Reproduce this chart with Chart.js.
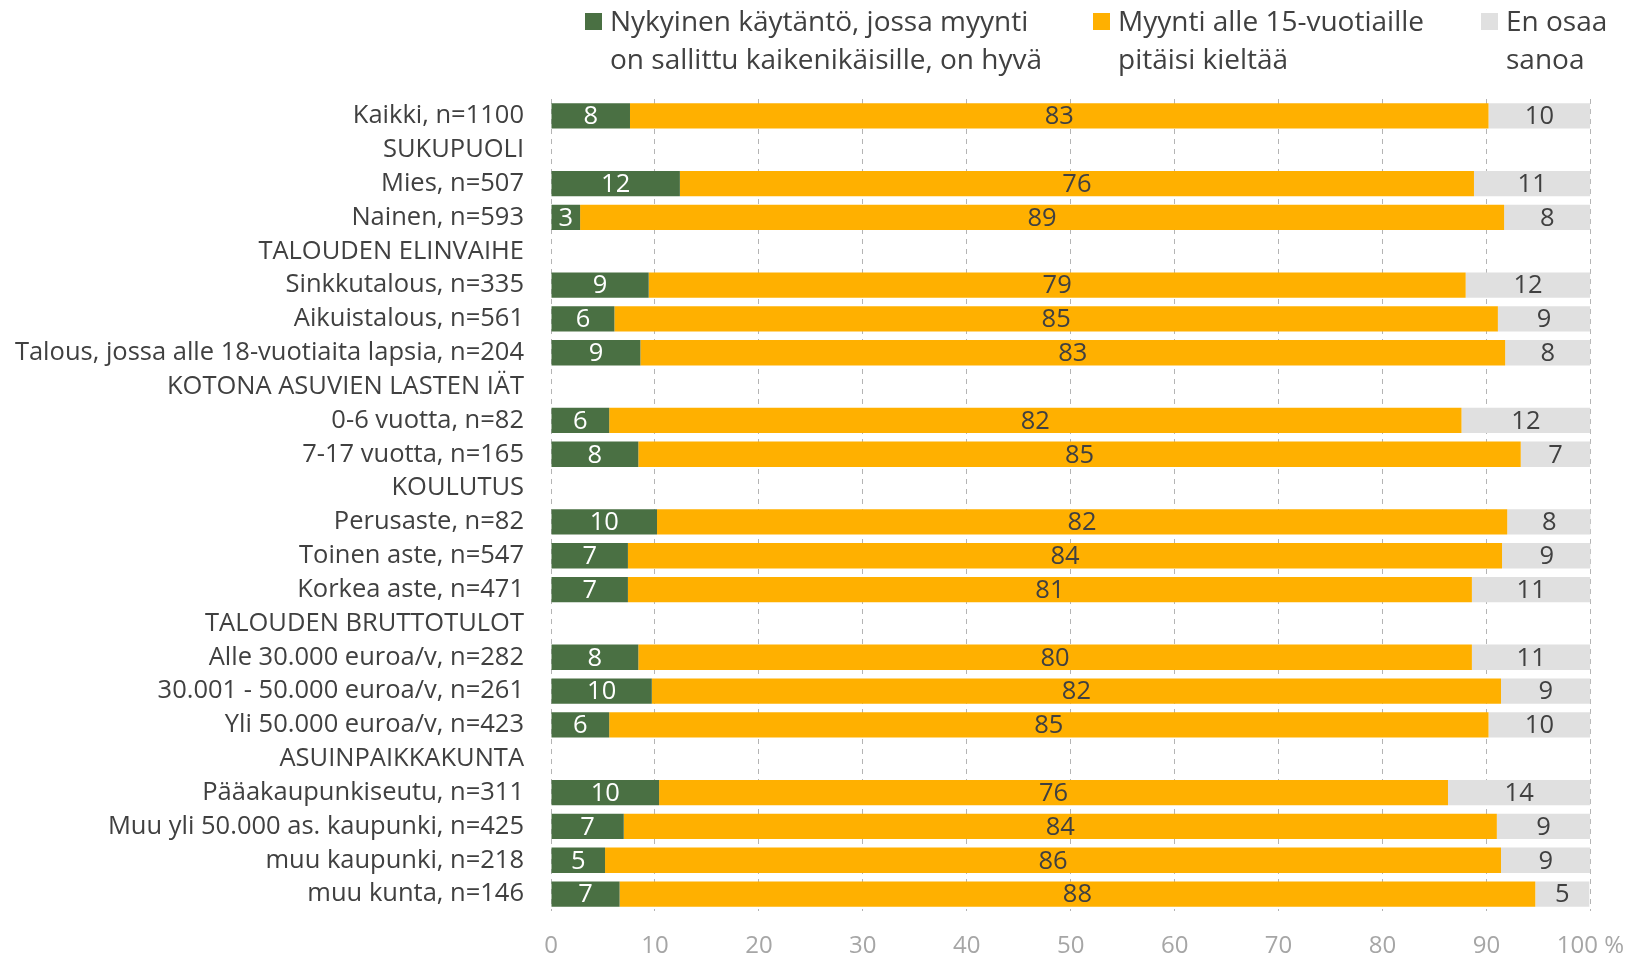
<!DOCTYPE html>
<html>
<head>
<meta charset="utf-8">
<script src="https://cdn.jsdelivr.net/npm/chart.js@4"></script>
<style>
  body { margin: 0; background: #fff; }
  #wrap { position: relative; width: 1645px; height: 957px; }
  .leg { position: absolute; top: 1px; font-family: "Open Sans", sans-serif; font-size: 28px; line-height: 38px; color: #404040; white-space: nowrap; }
  .leg i { position: absolute; left: -25px; top: 12px; width: 17px; height: 17px; }
</style>
</head>
<body>
<div id="wrap">
  <canvas id="bar-chart" width="1645" height="957"></canvas>
  <div class="leg" style="left:610px"><i style="background:#4a7043"></i>Nykyinen käytäntö, jossa myynti<br>on sallittu kaikenikäisille, on hyvä</div>
  <div class="leg" style="left:1118px"><i style="background:#ffb000"></i>Myynti alle 15-vuotiaille<br>pitäisi kieltää</div>
  <div class="leg" style="left:1506px"><i style="background:#e0e0e0"></i>En osaa<br>sanoa</div>
</div>
<script>
// categories (header rows have no bars)
const categories = [
    'Kaikki, n=1100', 'SUKUPUOLI', 'Mies, n=507', 'Nainen, n=593',
    'TALOUDEN ELINVAIHE', 'Sinkkutalous, n=335', 'Aikuistalous, n=561',
    'Talous, jossa alle 18-vuotiaita lapsia, n=204', 'KOTONA ASUVIEN LASTEN IÄT',
    '0-6 vuotta, n=82', '7-17 vuotta, n=165', 'KOULUTUS', 'Perusaste, n=82',
    'Toinen aste, n=547', 'Korkea aste, n=471', 'TALOUDEN BRUTTOTULOT',
    'Alle 30.000 euroa/v, n=282', '30.001 - 50.000 euroa/v, n=261',
    'Yli 50.000 euroa/v, n=423', 'ASUINPAIKKAKUNTA', 'Pääakaupunkiseutu, n=311',
    'Muu yli 50.000 as. kaupunki, n=425', 'muu kaupunki, n=218', 'muu kunta, n=146'
];

const nykyinen = [7.6, null, 12.4, 2.8, null, 9.4, 6.1, 8.6, null, 5.6, 8.4, null, 10.2, 7.4, 7.4, null, 8.4, 9.7, 5.6, null, 10.4, 7.0, 5.2, 6.6];
const kielto = [82.6, null, 76.4, 88.9, null, 78.6, 85.0, 83.2, null, 82.0, 84.9, null, 81.8, 84.1, 81.2, null, 80.2, 81.7, 84.6, null, 75.9, 84.0, 86.2, 88.1];
const eiOsaa = [9.8, null, 11.2, 8.3, null, 12.0, 8.9, 8.2, null, 12.4, 6.7, null, 8.1, 8.6, 11.4, null, 11.4, 8.6, 9.8, null, 13.7, 9.0, 8.6, 5.2];

const xTicks = [0, 10, 20, 30, 40, 50, 60, 70, 80, 90, 100];

const FONT = '"Open Sans", sans-serif';

// draws the rounded value in the middle of each segment
const segmentLabels = {
    id: 'segmentLabels',
    afterDatasetsDraw(chart) {
        const ctx = chart.ctx;
        ctx.save();
        ctx.font = '25.5px ' + FONT;
        ctx.textAlign = 'center';
        ctx.textBaseline = 'middle';
        chart.data.datasets.forEach((ds, i) => {
            chart.getDatasetMeta(i).data.forEach((bar, j) => {
                const v = ds.data[j];
                if (v == null) return;
                ctx.fillStyle = i === 0 ? '#ffffff' : '#404040';
                ctx.fillText(Math.round(v), (bar.x + bar.base) / 2, bar.y + 1);
            });
        });
        ctx.restore();
    }
};

new Chart(document.getElementById('bar-chart'), {
    type: 'bar',
    data: {
        labels: categories,
        datasets: [
            { label: 'Nykyinen käytäntö, jossa myynti on sallittu kaikenikäisille, on hyvä', data: nykyinen, backgroundColor: '#4a7043' },
            { label: 'Myynti alle 15-vuotiaille pitäisi kieltää', data: kielto, backgroundColor: '#ffb000' },
            { label: 'En osaa sanoa', data: eiOsaa, backgroundColor: '#e0e0e0' }
        ]
    },
    options: {
        indexAxis: 'y',
        responsive: false,
        animation: false,
        layout: {
            padding: { top: 99, right: 49, left: 0, bottom: 0 }
        },
        datasets: {
            bar: { categoryPercentage: 1, barPercentage: 0.75 }
        },
        scales: {
            x: {
                stacked: true,
                min: 0,
                max: 100,
                afterBuildTicks(scale) {
                    scale.ticks = xTicks.map(v => ({ value: v }));
                },
                afterFit(scale) {
                    scale.height = 46;
                },
                ticks: {
                    color: '#a6a6a6',
                    padding: 21,
                    maxRotation: 0,
                    font: { family: FONT, size: 24 },
                    callback: v => v === 100 ? '100 %' : v
                },
                grid: {
                    color: '#b4b4b4',
                    drawTicks: false
                },
                border: {
                    display: false,
                    dash: [5, 5]
                }
            },
            y: {
                stacked: true,
                afterFit(scale) {
                    scale.width = 551;
                },
                ticks: {
                    color: '#404040',
                    padding: 19,
                    autoSkip: false,
                    font: { family: FONT, size: 25.5 }
                },
                grid: { display: false },
                border: { display: false }
            }
        },
        plugins: {
            legend: { display: false },
            tooltip: { enabled: false }
        }
    },
    plugins: [segmentLabels]
});
</script>
</body>
</html>
